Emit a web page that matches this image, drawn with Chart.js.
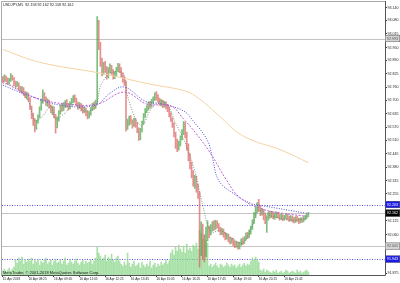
<!DOCTYPE html>
<html>
<head>
<meta charset="utf-8">
<style>
  html, body { margin: 0; padding: 0; background: #fff; }
  #wrap { width: 400px; height: 283px; }
</style>
<script src="https://cdn.jsdelivr.net/npm/chart.js@4.4.1/dist/chart.umd.min.js"></script>
</head>
<body>
<div id="wrap"><canvas id="chart"></canvas></div>
<script>
const title = "USDJPY,M5  92.158 92.162 92.158 92.162";
const copyright = "MetaTrader, \u00a9 2001-2018 MetaQuotes Software Corp.";

// M5 bars, open of each bar = previous close
const firstOpen = 92.800;
const closes = [
  92.795, 92.808, 92.801, 92.786, 92.792, 92.814, 92.803, 92.785, 92.772, 92.779,
  92.761, 92.748, 92.756, 92.735, 92.722, 92.730, 92.706, 92.665, 92.628, 92.604,
  92.575, 92.598, 92.622, 92.660, 92.692, 92.728, 92.710, 92.688, 92.697, 92.672,
  92.655, 92.664, 92.628, 92.590, 92.612, 92.641, 92.668, 92.659, 92.676, 92.690,
  92.678, 92.665, 92.684, 92.697, 92.710, 92.703, 92.684, 92.670, 92.679, 92.662,
  92.650, 92.658, 92.640, 92.622, 92.635, 92.658, 92.675, 92.668, 92.690, 93.050,
  92.960, 92.882, 92.835, 92.868, 92.850, 92.812, 92.842, 92.860, 92.838, 92.815,
  92.826, 92.845, 92.862, 92.848, 92.820, 92.800, 92.786, 92.570, 92.592, 92.615,
  92.598, 92.580, 92.604, 92.585, 92.560, 92.530, 92.556, 92.592, 92.625, 92.648,
  92.662, 92.680, 92.672, 92.694, 92.706, 92.720, 92.712, 92.702, 92.688, 92.694,
  92.676, 92.684, 92.670, 92.660, 92.632, 92.610, 92.585, 92.540, 92.502, 92.476,
  92.492, 92.520, 92.548, 92.585, 92.540, 92.480, 92.430, 92.395, 92.352, 92.312,
  92.330, 92.282, 92.250, 91.985, 92.080, 92.010, 91.968, 92.050, 92.085, 92.070,
  92.092, 92.110, 92.098, 92.116, 92.104, 92.088, 92.072, 92.080, 92.062, 92.048,
  92.056, 92.040, 92.028, 92.036, 92.020, 92.010, 92.018, 92.005, 92.015, 92.030,
  92.024, 92.042, 92.058, 92.050, 92.072, 92.090, 92.120, 92.152, 92.175, 92.198,
  92.185, 92.165, 92.172, 92.148, 92.128, 92.140, 92.158, 92.150, 92.162, 92.145,
  92.152, 92.160, 92.148, 92.140, 92.150, 92.138, 92.145, 92.152, 92.140, 92.132,
  92.142, 92.136, 92.128, 92.140, 92.132, 92.125, 92.134, 92.128, 92.138, 92.145,
  92.150, 92.162
];
const highs = [
  92.812, 92.820, 92.815, 92.806, 92.803, 92.826, 92.818, 92.807, 92.790, 92.788,
  92.782, 92.766, 92.764, 92.760, 92.741, 92.738, 92.733, 92.712, 92.672, 92.638,
  92.612, 92.605, 92.630, 92.668, 92.705, 92.749, 92.736, 92.715, 92.706, 92.700,
  92.678, 92.672, 92.668, 92.632, 92.620, 92.650, 92.677, 92.682, 92.688, 92.698,
  92.702, 92.684, 92.692, 92.708, 92.722, 92.725, 92.710, 92.690, 92.688, 92.683,
  92.672, 92.666, 92.662, 92.648, 92.645, 92.666, 92.684, 92.690, 92.700, 93.098,
  93.080, 92.975, 92.900, 92.880, 92.884, 92.860, 92.855, 92.872, 92.866, 92.845,
  92.836, 92.856, 92.875, 92.872, 92.855, 92.830, 92.812, 92.790, 92.610, 92.624,
  92.626, 92.606, 92.614, 92.612, 92.594, 92.568, 92.565, 92.600, 92.636, 92.660,
  92.674, 92.690, 92.694, 92.704, 92.715, 92.735, 92.740, 92.726, 92.710, 92.702,
  92.700, 92.694, 92.692, 92.680, 92.668, 92.640, 92.616, 92.592, 92.548, 92.515,
  92.505, 92.530, 92.560, 92.598, 92.594, 92.548, 92.492, 92.445, 92.405, 92.365,
  92.342, 92.338, 92.300, 92.262, 92.120, 92.110, 92.060, 92.095, 92.125, 92.100,
  92.108, 92.122, 92.126, 92.128, 92.125, 92.112, 92.095, 92.090, 92.086, 92.070,
  92.066, 92.062, 92.048, 92.045, 92.042, 92.030, 92.028, 92.024, 92.024, 92.040,
  92.044, 92.050, 92.068, 92.070, 92.082, 92.100, 92.130, 92.165, 92.190, 92.212,
  92.228, 92.198, 92.185, 92.180, 92.160, 92.150, 92.168, 92.172, 92.170, 92.168,
  92.160, 92.168, 92.166, 92.158, 92.158, 92.155, 92.152, 92.160, 92.158, 92.148,
  92.150, 92.148, 92.142, 92.146, 92.148, 92.138, 92.140, 92.140, 92.145, 92.152,
  92.158, 92.166
];
const lows = [
  92.784, 92.790, 92.788, 92.775, 92.778, 92.789, 92.795, 92.770, 92.760, 92.765,
  92.750, 92.738, 92.735, 92.722, 92.712, 92.705, 92.695, 92.655, 92.612, 92.580,
  92.548, 92.560, 92.590, 92.615, 92.652, 92.684, 92.698, 92.675, 92.670, 92.661,
  92.640, 92.630, 92.615, 92.542, 92.568, 92.600, 92.633, 92.646, 92.650, 92.664,
  92.666, 92.652, 92.658, 92.676, 92.688, 92.690, 92.672, 92.655, 92.660, 92.648,
  92.638, 92.640, 92.625, 92.610, 92.615, 92.628, 92.650, 92.656, 92.660, 92.682,
  92.940, 92.860, 92.815, 92.822, 92.832, 92.800, 92.805, 92.830, 92.822, 92.800,
  92.802, 92.815, 92.838, 92.830, 92.808, 92.785, 92.770, 92.552, 92.560, 92.580,
  92.585, 92.566, 92.575, 92.570, 92.545, 92.508, 92.512, 92.548, 92.585, 92.618,
  92.640, 92.652, 92.660, 92.666, 92.684, 92.698, 92.700, 92.690, 92.676, 92.672,
  92.664, 92.666, 92.658, 92.645, 92.620, 92.598, 92.570, 92.525, 92.470, 92.455,
  92.462, 92.482, 92.510, 92.535, 92.520, 92.462, 92.410, 92.372, 92.330, 92.290,
  92.280, 92.262, 92.232, 91.905, 91.960, 91.940, 91.930, 91.955, 92.030, 92.045,
  92.058, 92.076, 92.080, 92.085, 92.090, 92.074, 92.058, 92.060, 92.048, 92.035,
  92.038, 92.025, 92.015, 92.018, 92.006, 91.998, 92.000, 91.990, 91.992, 92.008,
  92.012, 92.018, 92.035, 92.040, 92.045, 92.062, 92.085, 92.112, 92.140, 92.165,
  92.170, 92.150, 92.152, 92.130, 92.112, 92.070, 92.128, 92.138, 92.140, 92.135,
  92.132, 92.140, 92.138, 92.128, 92.132, 92.126, 92.128, 92.134, 92.130, 92.122,
  92.125, 92.120, 92.115, 92.118, 92.122, 92.112, 92.115, 92.118, 92.120, 92.130,
  92.138, 92.145
];
// tick volumes
const volumes = [
  8, 12, 6, 10, 14, 8, 12, 16,
  30, 24, 34, 28, 36, 22, 30, 26, 32,
  28, 34, 22, 30, 26, 32, 20, 28, 24, 30, 34, 22, 26, 30, 20, 28, 32, 24, 26, 30, 22,
  28, 34, 20, 24, 30, 26, 22, 28, 32, 24, 20, 26, 30, 22, 28, 24, 26, 30, 22, 28, 34,
  56,
  44, 38, 30, 34, 40, 28, 36, 32, 42, 30, 26, 34, 38, 28,
  22, 18, 26, 20, 44, 24, 16, 22, 28, 18, 20, 24, 14, 26, 20, 16, 22, 18, 28, 14,
  20, 24, 16, 22, 18, 26, 20, 24, 30, 22, 28,
  44, 50, 40, 56, 48, 60, 52, 46, 58, 44, 62, 50, 54, 48, 60, 56, 64, 52,
  90, 84, 72, 80, 70, 64,
  18, 22, 16, 20, 24, 18, 14, 22, 20, 16, 18, 24, 20, 16, 22, 18, 20, 14, 18, 22,
  16, 20, 24, 18, 22, 20,
  28, 34, 30, 36, 32, 26,
  10, 8, 12, 6, 10, 8, 6, 4, 8, 6, 10, 4, 6, 8, 4, 6, 10, 8, 4, 6, 8, 6, 4, 10, 6,
  8, 4, 6, 8, 10, 6
];

// moving averages, [bar, price]
const maLong = [[0, 92.941], [23, 92.880], [61, 92.828], [92, 92.776], [114, 92.743],
  [123, 92.705], [134, 92.634], [150, 92.530], [175, 92.459], [191, 92.402]];
const maSlow = [[0, 92.790], [11, 92.743], [23, 92.705], [40, 92.681], [59, 92.681],
  [76, 92.738], [90, 92.681], [105, 92.672], [113, 92.610], [121, 92.539], [130, 92.445],
  [140, 92.317], [148, 92.237], [161, 92.184], [175, 92.161], [190, 92.147]];
const maMid = [[0, 92.771], [17, 92.719], [36, 92.676], [58, 92.676], [67, 92.733],
  [76, 92.762], [89, 92.695], [100, 92.681], [113, 92.648], [119, 92.601], [128, 92.506],
  [131, 92.426], [135, 92.317], [144, 92.256], [155, 92.208], [161, 92.199], [190, 92.161]];
const maFast = [[0, 92.780], [8, 92.762], [16, 92.695], [20, 92.601], [25, 92.624],
  [30, 92.672], [33, 92.610], [39, 92.639], [45, 92.681], [51, 92.648], [58, 92.667],
  [61, 92.766], [67, 92.828], [75, 92.828], [78, 92.719], [83, 92.610], [87, 92.577],
  [92, 92.648], [98, 92.695], [103, 92.676], [108, 92.591], [114, 92.497], [120, 92.364],
  [125, 92.199], [130, 92.071], [136, 92.080], [143, 92.043], [150, 92.019], [156, 92.104],
  [160, 92.175], [167, 92.151], [180, 92.128], [191, 92.137]];

const timeLabels = ["15 Apr 2018", "16 Apr 08:25", "16 Apr 09:45", "16 Apr 11:05",
  "16 Apr 12:25", "16 Apr 13:45", "16 Apr 15:05", "16 Apr 16:25", "16 Apr 17:45",
  "16 Apr 19:05", "16 Apr 20:25", "16 Apr 21:45"];
const barsPerLabel = 16;
const priceTicks = [93.140, 93.080, 93.015, 92.950, 92.890, 92.825, 92.760, 92.700,
  92.635, 92.570, 92.510, 92.445, 92.380, 92.315, 92.255, 92.125, 92.060, 91.875];

const bidPrice = 92.162;
const greyLevels = [92.993, 92.005];
const blueLevels = [92.203, 91.943];

const opens = closes.map((c, i) => (i === 0 ? firstOpen : closes[i - 1]));
const bull = "rgba(70,165,70,0.7)";
const bear = "rgba(220,95,95,0.7)";

const font = "'Liberation Sans', Arial, sans-serif";

function hline(ctx, a, py) {
  ctx.beginPath();
  ctx.moveTo(a.left, py);
  ctx.lineTo(a.right, py);
  ctx.stroke();
}

function priceBox(ctx, a, py, price, fill, textColor) {
  ctx.fillStyle = fill;
  ctx.fillRect(a.right, py - 3.5, 400 - a.right, 7);
  ctx.strokeStyle = "#666";
  ctx.lineWidth = 0.5;
  ctx.strokeRect(a.right + 0.25, py - 3.25, 400 - a.right - 0.5, 6.5);
  ctx.fillStyle = textColor;
  ctx.font = "3.6px " + font;
  ctx.textAlign = "left";
  ctx.textBaseline = "middle";
  ctx.fillText(price.toFixed(3), a.right + 2, py + 0.3);
}

const mt4Overlay = {
  id: "mt4Overlay",
  beforeDatasetsDraw(chart) {
    const { ctx, chartArea: a, scales: { y } } = chart;
    ctx.save();
    ctx.lineWidth = 1;
    ctx.strokeStyle = "#c4c4c4";
    greyLevels.concat([bidPrice]).forEach((p) => hline(ctx, a, Math.round(y.getPixelForValue(p)) + 0.5));
    ctx.strokeStyle = "#5252d8";
    ctx.setLineDash([1, 1.5]);
    blueLevels.forEach((p) => hline(ctx, a, Math.round(y.getPixelForValue(p)) + 0.5));
    ctx.restore();
  },
  afterDraw(chart) {
    const { ctx, chartArea: a, scales: { y } } = chart;
    ctx.save();
    // frame
    ctx.strokeStyle = "#a8a8a8";
    ctx.lineWidth = 1;
    ctx.beginPath();
    ctx.moveTo(1.5, a.bottom);
    ctx.lineTo(1.5, 1.5);
    ctx.lineTo(a.right, 1.5);
    ctx.stroke();
    ctx.strokeStyle = "#555";
    ctx.beginPath();
    ctx.moveTo(1.5, a.bottom + 0.5);
    ctx.lineTo(a.right + 0.5, a.bottom + 0.5);
    ctx.lineTo(a.right + 0.5, 1);
    ctx.stroke();
    // texts
    ctx.fillStyle = "#222";
    ctx.font = "3.7px " + font;
    ctx.textAlign = "left";
    ctx.textBaseline = "middle";
    ctx.fillText(title, 3, 5);
    ctx.font = "4px " + font;
    ctx.fillText(copyright, 3, 272.5);
    // price boxes
    greyLevels.forEach((p) => priceBox(ctx, a, y.getPixelForValue(p), p, "#d4d4d4", "#555"));
    blueLevels.forEach((p) => priceBox(ctx, a, y.getPixelForValue(p), p, "#1c1ce8", "#fff"));
    priceBox(ctx, a, y.getPixelForValue(bidPrice), bidPrice, "#000", "#fff");
    ctx.restore();
  }
};

const pts = (arr) => arr.map(([i, p]) => ({ x: i, y: p }));

new Chart(document.getElementById("chart"), {
  type: "bar",
  data: {
    datasets: [
      {
        type: "line",
        data: pts(maLong),
        borderColor: "#f5d2a4",
        borderWidth: 1,
        pointRadius: 0,
        tension: 0.4,
        order: 1
      },
      {
        type: "line",
        data: pts(maSlow),
        borderColor: "#c060d0",
        borderWidth: 1,
        borderDash: [2, 1.5],
        pointRadius: 0,
        tension: 0.4,
        order: 1
      },
      {
        type: "line",
        data: pts(maMid),
        borderColor: "#5050d4",
        borderWidth: 1,
        borderDash: [1, 1.5],
        pointRadius: 0,
        tension: 0.4,
        order: 1
      },
      {
        type: "line",
        data: pts(maFast),
        borderColor: "#5f7f5f",
        borderWidth: 0.8,
        borderDash: [1, 1.5],
        pointRadius: 0,
        tension: 0.3,
        order: 1
      },
      {
        data: closes.map((c, i) => ({ x: i, y: [lows[i], highs[i]] })),
        backgroundColor: closes.map((c, i) => (c >= opens[i] ? bull : bear)),
        barThickness: 1,
        grouped: false,
        order: 5
      },
      {
        data: volumes.map((v, i) => ({ x: i, y: v })),
        backgroundColor: "rgba(140,215,140,0.75)",
        barThickness: 1,
        grouped: false,
        yAxisID: "yv",
        order: 10
      }
    ]
  },
  options: {
    responsive: true,
    maintainAspectRatio: false,
    animation: false,
    events: [],
    layout: { padding: { left: 2, top: 1, right: 0, bottom: 0 } },
    plugins: { legend: { display: false }, tooltip: { enabled: false } },
    scales: {
      x: {
        type: "linear",
        offset: false,
        min: -0.5,
        max: 238.9,
        grid: { display: true, drawOnChartArea: false, offset: false, tickLength: 2, color: "#444" },
        border: { display: false },
        afterBuildTicks: (scale) => {
          scale.ticks = timeLabels.map((_, k) => ({ value: k * barsPerLabel }));
        },
        afterFit: (scale) => { scale.height = 8; },
        ticks: {
          autoSkip: false,
          maxRotation: 0,
          align: "start",
          padding: 0,
          color: "#222",
          font: { family: font, size: 3.2 },
          callback: (v, i) => timeLabels[i]
        }
      },
      y: {
        position: "right",
        min: 91.8675,
        max: 93.1637,
        grid: { display: true, drawOnChartArea: false, tickLength: 2, color: "#444" },
        border: { display: false },
        afterBuildTicks: (scale) => {
          scale.ticks = priceTicks.map((v) => ({ value: v }));
        },
        afterFit: (scale) => { scale.width = 15; },
        ticks: {
          autoSkip: false,
          padding: 0.5,
          color: "#222",
          font: { family: font, size: 3.6 },
          callback: (v) => Number(v).toFixed(3)
        }
      },
      yv: { display: false, min: 0, max: 548 }
    }
  },
  plugins: [mt4Overlay]
});
</script>
</body>
</html>
